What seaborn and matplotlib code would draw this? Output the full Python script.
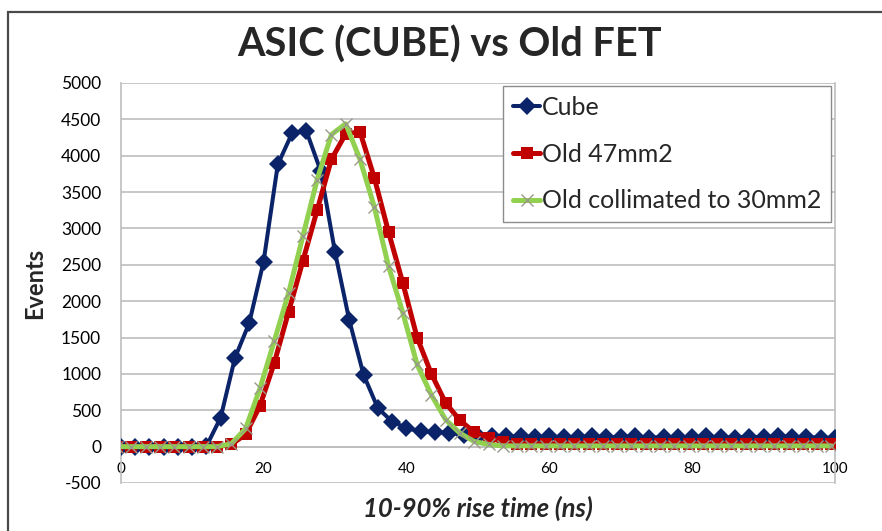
import matplotlib
matplotlib.use("Agg")
import matplotlib.pyplot as plt
import seaborn as sns
import pandas as pd
import numpy as np
from matplotlib.patches import Rectangle

# ---------------- data ----------------
cube_x = list(range(0, 101, 2))
cube_y = [0, 0, 0, 0, 0, 0, 5, 400, 1220, 1700, 2540, 3880, 4310, 4340, 3790,
          2680, 1740, 990, 530, 345, 255, 210, 200, 190, 165, 150,
          145, 140, 140, 135, 140, 130, 135, 140, 130, 135, 140, 125, 130,
          135, 130, 140, 130, 125, 135, 130, 140, 135, 130, 125, 120]

old_x = [-0.5 + 2 * k for k in range(51)]
old47_y = [0, 0, 0, 0, 0, 0, 0, 0, 30, 170, 560, 1150, 1850, 2550, 3250, 3950,
           4300, 4330, 3700, 2950, 2250, 1500, 1000, 600, 360, 200, 120, 70,
           40, 40, 40, 40, 40, 40, 40, 40, 40, 40, 40, 40, 40, 40, 40, 40,
           40, 40, 40, 40, 40, 40, 40]
old30_y = [0, 0, 0, 0, 0, 0, 0, 0, 40, 250, 800, 1450, 2110, 2890, 3670, 4290,
           4440, 3950, 3300, 2480, 1840, 1130, 710, 370, 185, 70, 30,
           10, 10, 10, 10, 10, 10, 10, 10, 10, 10, 10, 10, 10, 10, 10, 10,
           10, 10, 10, 10, 10, 10, 10, 10]

series_names = ["Cube", "Old 47mm2", "Old collimated to 30mm2"]
x_ticks = [0, 20, 40, 60, 80, 100]
y_ticks = list(range(-500, 5001, 500))

# ---------------- style ----------------
sns.set_theme(style="white")
plt.rcParams["font.family"] = ["Lato", "DejaVu Sans"]

fig = plt.figure(figsize=(8.82, 5.31), dpi=100)
ax = fig.add_axes([0.1368, 0.0904, 0.8099, 0.7533])

# outer chart border
fig.patches.append(Rectangle((0.009, -0.2), 1.2, 0.2 + 0.977, transform=fig.transFigure,
                             fill=False, edgecolor="#4a4a4a", linewidth=1.6, zorder=0))

df_cube = pd.DataFrame({"x": cube_x, "y": cube_y})
df_47 = pd.DataFrame({"x": old_x, "y": old47_y})
df_30 = pd.DataFrame({"x": old_x, "y": old30_y})

sns.lineplot(data=df_cube, x="x", y="y", ax=ax, color="#0b2469", linewidth=2.9,
             marker="D", markersize=9, markeredgewidth=0, label=series_names[0], zorder=3)
sns.lineplot(data=df_47, x="x", y="y", ax=ax, color="#c00000", linewidth=3.6,
             marker="s", markersize=8.5, markeredgewidth=0, label=series_names[1], zorder=4)
sns.lineplot(data=df_30, x="x", y="y", ax=ax, color="#92d050", linewidth=3.6,
             marker="x", markersize=8, markeredgecolor="#9a9a8a", markeredgewidth=1.0,
             label=series_names[2], zorder=5)

ax.set_xlim(0, 100)
ax.set_ylim(-500, 5000)
ax.set_xticks(x_ticks)
ax.set_yticks(y_ticks)
ax.set_xticklabels([str(t) for t in x_ticks], fontsize=13)
ax.set_yticklabels([str(t) for t in y_ticks], fontsize=12.5)

ax.yaxis.grid(True, color="#bdbdbd", linewidth=1.2)
ax.xaxis.grid(False)
for s in ["left", "right", "bottom"]:
    ax.spines[s].set_visible(True)
    ax.spines[s].set_color("#bdbdbd")
    ax.spines[s].set_linewidth(1.2)
ax.spines["top"].set_visible(False)
ax.spines["bottom"].set_position(("data", 0))
ax.tick_params(axis="both", length=0, colors="#000000")
ax.tick_params(axis="x", pad=11)
ax.tick_params(axis="y", pad=14)

fig.text(0.510, 0.916, "ASIC (CUBE) vs Old FET", fontsize=28.5, fontweight="bold",
         ha="center", va="center")
ax.set_ylabel("Events", fontsize=17, fontweight="bold", labelpad=11)
ax.set_xlabel("")
fig.text(0.542, 0.043, "10-90% rise time (ns)", fontsize=18.5, fontweight="bold",
         style="italic", ha="center", va="center")

leg = ax.legend(loc="upper left", bbox_to_anchor=(0.535, 0.9925), borderaxespad=0,
                fontsize=18, frameon=True, fancybox=False, handlelength=1.1,
                handletextpad=0.05, labelspacing=0.95, borderpad=0.4)
leg.get_frame().set_edgecolor("#8c8c8c")
leg.get_frame().set_linewidth(1.0)
leg.get_frame().set_facecolor("white")
leg.get_frame().set_alpha(1)

fig.savefig("out.png", dpi=100, facecolor="white")
